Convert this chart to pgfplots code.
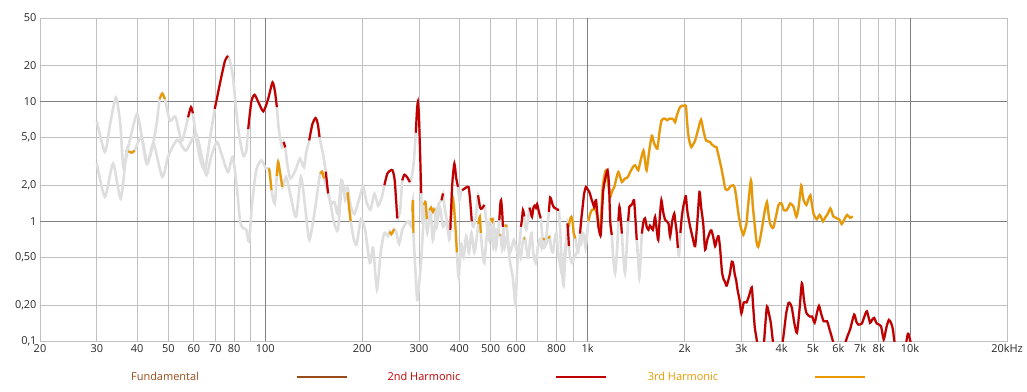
\documentclass[border=0pt]{standalone}
\usepackage{fontspec}
\setmainfont{Open Sans}
\usepackage{pgfplots}
\usepackage{pgfplotstable}
\pgfplotsset{compat=1.18}
\definecolor{hred}{RGB}{192,0,0}
\definecolor{horange}{RGB}{232,152,0}
\definecolor{hbrown}{RGB}{150,75,25}
\definecolor{hgrey}{RGB}{222,222,222}
\definecolor{gridlight}{RGB}{192,192,192}
\definecolor{griddark}{RGB}{128,128,128}
\definecolor{ticktext}{RGB}{40,40,40}

% curve P (mostly 2nd harmonic): f, value, red part, orange part
\pgfplotstableread{
f v r o
30 6.9 nan nan
31.8 3.8 nan nan
33 6.5 nan nan
34.4 10.8 nan nan
35.5 6.5 nan nan
36.3 2.8 nan nan
37.8 4.5 nan nan
40 7.9 nan nan
41.5 4.8 nan nan
42.8 3.05 nan nan
44.5 4.0 nan nan
46 6.5 nan nan
47 10.5 nan 10.5
47.9 11.7 nan 11.7
48.8 10.5 nan 10.5
50.6 6.9 nan nan
52.6 7.5 nan nan
55 4.7 nan nan
57 6.5 nan nan
57.6 7.4 7.4 nan
58.8 9.0 9.0 nan
59.6 8.0 8.0 nan
61 5 nan nan
63 3.2 nan nan
65 2.67 nan nan
67 4.5 nan nan
69.7 8.7 8.7 nan
72.6 14.9 14.9 nan
75 22 22 nan
76.6 24.1 24.1 nan
77.6 22 nan nan
79.4 16 nan nan
82.3 6.1 nan nan
85.3 3.55 nan nan
87.3 3.9 nan nan
88.5 5.9 5.9 nan
90.5 10 10 nan
92.6 11.4 11.4 nan
95 10 10 nan
98.6 8.3 8.3 nan
102 10.5 10.5 nan
105.3 14.5 14.5 nan
107.2 12 12 nan
108.6 9.0 9.0 nan
110 6 nan nan
112.6 4.12 nan nan
114 4.6 4.6 nan
115.3 4.15 4.15 nan
117 3 nan nan
119.6 2.28 nan nan
124 2.67 nan nan
128 3.34 nan nan
131.8 2.84 nan nan
134 3.8 nan nan
136.8 4.74 4.74 nan
140 6.5 6.5 nan
143.2 7.3 7.3 nan
145.5 6.5 6.5 nan
147.3 5.05 5.05 nan
151 3.67 nan nan
154 2.6 2.6 nan
156.6 1.71 1.71 nan
160 1.4 nan nan
164 1.45 nan nan
168 1.15 nan nan
172 2.2 nan nan
176 1.8 nan nan
180 1.9 nan nan
184 1.35 nan nan
189 1.15 nan nan
195 1.5 nan nan
201 1.94 nan nan
206 1.45 nan nan
212 1.25 nan nan
218 1.7 nan nan
224 1.35 nan nan
230 1.6 nan nan
234 2.0 2.0 nan
239 2.5 2.5 nan
244 2.65 2.65 nan
248 2.67 2.67 nan
252 2.2 2.2 nan
256.7 1.06 1.06 nan
262 1.25 nan nan
266 2.2 2.2 nan
270 2.45 2.45 nan
275 2.35 2.35 nan
281 2.13 2.13 nan
285 2.4 nan nan
289 3.2 nan nan
293 5.5 5.5 nan
295.5 8.5 8.5 nan
297.5 10 10 nan
299.5 8 8 nan
302 3.9 3.9 nan
304.5 1.72 1.72 nan
307 1.0 nan nan
312 1.3 nan nan
318 0.8 nan nan
325 1.25 nan nan
331 0.7 nan nan
338 1.1 nan nan
345 1.4 nan nan
352 1.5 1.5 nan
356 1.71 1.71 nan
360 1.3 nan nan
366 1.0 nan nan
372 0.7 nan nan
375 0.85 0.85 nan
380 2.0 2.0 nan
386 3.03 3.03 nan
391 2.3 2.3 nan
396 1.94 1.94 nan
400 1.5 nan nan
404 1.7 nan nan
408 1.82 1.82 nan
418 1.9 1.9 nan
427 1.94 1.94 nan
432 1.5 1.5 nan
437 1.0 1.0 nan
442 0.9 nan nan
450 1.1 nan nan
457 1.65 1.65 nan
464 1.3 1.3 nan
470 1.28 1.28 nan
478 1.37 1.37 nan
483 1.1 nan nan
489 0.85 nan nan
495 0.7 nan nan
502 0.9 nan nan
510 0.6 nan nan
520 0.85 nan nan
528 0.8 nan nan
532 1.02 1.02 nan
536 1.4 1.4 nan
539 1.5 1.5 nan
543 1.2 1.2 nan
546 0.9 0.9 nan
552 0.6 nan nan
562 0.75 nan nan
575 0.55 nan nan
590 0.7 nan nan
605 0.55 nan nan
615 0.66 nan nan
621 0.9 0.9 nan
625 1.02 1.02 nan
630 1.24 1.24 nan
636 1.1 1.1 nan
640 0.9 nan nan
645 0.85 nan nan
652 1.0 nan nan
660 1.3 1.3 nan
666 1.2 1.2 nan
672 1.09 1.09 nan
679 1.3 1.3 nan
685 1.35 1.35 nan
691 1.3 1.3 nan
697 1.39 1.39 nan
706 1.2 1.2 nan
715 1.06 1.06 nan
722 0.8 nan nan
730 0.6 nan nan
740 0.65 nan nan
750 0.9 nan nan
758 1.2 1.2 nan
765 1.58 1.58 nan
772 1.5 1.5 nan
779 1.37 1.37 nan
788 1.3 1.3 nan
797 1.28 1.28 nan
806 1.25 1.25 nan
814 1.25 1.25 nan
821 0.9 nan nan
828 0.54 nan nan
835 0.35 nan nan
842 0.29 nan nan
850 0.45 nan nan
858 0.65 nan nan
866 0.96 0.96 nan
870 0.8 0.8 nan
875 0.62 0.62 nan
882 0.5 nan nan
895 0.45 nan nan
910 0.5 nan nan
925 0.55 nan nan
938 0.6 nan nan
947 0.79 0.79 nan
956 1.05 1.05 nan
965 1.32 1.32 nan
975 1.7 1.7 nan
988 1.94 1.94 nan
1000 1.85 1.85 nan
1012 1.76 1.76 nan
1020 1.65 1.65 nan
1030 1.5 1.5 nan
1040 1.4 1.4 nan
1047 1.32 1.32 nan
1055 1.45 1.45 nan
1062 1.5 1.5 nan
1070 1.2 1.2 nan
1080 0.9 0.9 nan
1090 0.8 0.8 nan
1098 0.77 0.77 nan
1108 1.2 1.2 nan
1118 1.82 1.82 nan
1135 2.3 2.3 nan
1153 2.67 2.67 nan
1165 2.0 2.0 nan
1175 1.0 1.0 nan
1188 0.77 0.77 nan
1200 0.5 nan nan
1217 0.37 nan nan
1235 0.6 nan nan
1245 1.0 1.0 nan
1255 1.32 1.32 nan
1265 1.1 1.1 nan
1277 0.79 0.79 nan
1290 0.5 nan nan
1306 0.37 nan nan
1322 0.6 nan nan
1335 1.0 1.0 nan
1347 1.32 1.32 nan
1360 1.35 1.35 nan
1375 1.4 1.4 nan
1393 1.5 1.5 nan
1405 1.1 1.1 nan
1420 0.7 0.7 nan
1433 0.5 nan nan
1447 0.34 nan nan
1460 0.5 nan nan
1473 0.79 0.79 nan
1490 1.0 1.0 nan
1507 1.06 1.06 nan
1525 0.9 0.9 nan
1544 0.85 0.85 nan
1560 0.92 0.92 nan
1572 0.9 0.9 nan
1593 0.85 0.85 nan
1605 0.95 0.95 nan
1619 1.09 1.09 nan
1638 0.85 0.85 nan
1656 0.7 0.7 nan
1675 1.1 1.1 nan
1694 1.5 1.5 nan
1715 1.2 1.2 nan
1739 1.03 1.03 nan
1760 1.0 1.0 nan
1782 0.96 0.96 nan
1802 0.75 0.75 nan
1830 1.0 1.0 nan
1857 1.16 1.16 nan
1870 1.0 1.0 nan
1886 0.85 0.85 nan
1905 0.6 0.6 nan
1921 0.52 nan nan
1940 0.8 0.8 nan
1960 1.1 1.1 nan
1980 1.32 1.32 nan
2000 1.5 1.5 nan
2017 1.62 1.62 nan
2040 1.2 1.2 nan
2080 0.9 0.9 nan
2120 0.72 0.72 nan
2155 0.62 0.62 nan
2190 1.0 1.0 nan
2223 1.76 1.76 nan
2250 1.3 1.3 nan
2283 0.96 0.96 nan
2314 0.58 0.58 nan
2350 0.7 0.7 nan
2398 0.82 0.82 nan
2420 0.84 0.84 nan
2450 0.75 0.75 nan
2486 0.62 0.62 nan
2515 0.7 0.7 nan
2547 0.75 0.75 nan
2575 0.6 0.6 nan
2610 0.38 0.38 nan
2640 0.33 0.33 nan
2670 0.31 0.31 nan
2700 0.29 0.29 nan
2760 0.36 0.36 nan
2800 0.46 0.46 nan
2830 0.44 0.44 nan
2860 0.36 0.36 nan
2890 0.32 0.32 nan
2916 0.27 0.27 nan
2960 0.22 0.22 nan
3000 0.17 0.17 nan
3050 0.21 0.21 nan
3110 0.21 0.21 nan
3170 0.24 0.24 nan
3230 0.28 0.28 nan
3260 0.2 0.2 nan
3300 0.13 0.13 nan
3350 0.1 0.1 nan
3400 0.07 0.07 nan
3500 0.08 0.08 nan
3560 0.14 0.14 nan
3600 0.195 0.195 nan
3650 0.17 0.17 nan
3700 0.142 0.142 nan
3760 0.097 0.097 nan
3850 0.06 0.06 nan
3950 0.07 0.07 nan
4050 0.11 0.11 nan
4130 0.17 0.17 nan
4200 0.208 0.208 nan
4250 0.205 0.205 nan
4300 0.19 0.19 nan
4380 0.14 0.14 nan
4460 0.117 0.117 nan
4540 0.18 0.18 nan
4620 0.305 0.305 nan
4690 0.22 0.22 nan
4770 0.172 0.172 nan
4890 0.16 0.16 nan
4970 0.16 0.16 nan
5060 0.142 0.142 nan
5140 0.17 0.17 nan
5220 0.197 0.197 nan
5300 0.17 0.17 nan
5400 0.146 0.146 nan
5530 0.146 0.146 nan
5630 0.125 0.125 nan
5780 0.097 0.097 nan
5900 0.07 0.07 nan
6100 0.07 0.07 nan
6250 0.09 0.09 nan
6400 0.11 0.11 nan
6520 0.125 0.125 nan
6710 0.166 0.166 nan
6820 0.145 0.145 nan
6920 0.137 0.137 nan
7090 0.14 0.14 nan
7220 0.16 0.16 nan
7350 0.177 0.177 nan
7520 0.142 0.142 nan
7620 0.15 0.15 nan
7740 0.156 0.156 nan
7890 0.14 0.14 nan
8130 0.133 0.133 nan
8290 0.103 0.103 nan
8450 0.13 0.13 nan
8600 0.15 0.15 nan
8750 0.14 0.14 nan
8850 0.125 0.125 nan
8960 0.097 0.097 nan
9200 0.07 0.07 nan
9600 0.08 0.08 nan
9850 0.115 0.115 nan
10000 0.103 0.103 nan
10200 0.08 0.08 nan
}\curveP

% curve Q (mostly 3rd harmonic)
\pgfplotstableread{
f v r o
30 3.05 nan nan
31.8 1.6 nan nan
33.7 3.03 nan nan
35.6 1.55 nan nan
37.1 3.9 nan nan
37.6 3.85 nan 3.85
38.5 3.75 nan 3.75
39.3 3.9 nan 3.9
41.3 5.05 nan nan
43.1 3.03 nan nan
45 4.45 nan nan
47.9 2.35 nan nan
50 3.5 nan nan
53.3 4.8 nan nan
56.7 3.9 nan nan
60.9 5.4 nan nan
63.5 3.5 nan nan
65.7 2.43 nan nan
68 3.5 nan nan
70.8 4.6 nan nan
73.5 3.5 nan nan
76.6 2.58 nan nan
79.2 3.45 nan nan
81.5 2.0 nan nan
83.5 1.0 nan nan
85.3 0.88 nan nan
87.3 0.85 nan nan
89 0.68 nan nan
91 1.4 nan nan
93.7 2.67 nan nan
97.2 3.23 nan nan
100.3 2.77 nan nan
102.7 2.77 nan 2.77
103.6 2.3 nan 2.3
104.5 1.82 nan 1.82
107 1.41 nan nan
108.5 2.4 nan 2.4
109.6 3.13 nan 3.13
111 2.6 nan 2.6
113 1.94 nan 1.94
116 2.35 nan nan
120 1.6 nan nan
124.6 1.09 nan nan
129 2.35 nan nan
133 1.3 nan nan
137 0.7 nan nan
143 1.32 nan nan
146 2.0 nan nan
148 2.5 nan 2.5
150 2.6 nan 2.6
152 2.28 nan 2.28
155 1.9 nan nan
158 1.6 nan nan
163 1.0 nan nan
168 0.85 nan nan
173 2.13 nan nan
177 1.5 nan nan
180 1.75 nan 1.75
182 1.3 nan 1.3
184 1.0 nan 1.0
188 0.72 nan nan
192 0.64 nan nan
198 1.05 nan nan
204 0.85 nan nan
211 0.45 nan nan
216 0.6 nan nan
222 0.27 nan nan
228 0.55 nan nan
234 0.8 nan nan
240 0.75 nan nan
243 0.82 nan 0.82
246 0.78 nan 0.78
251 0.86 nan 0.86
255 0.8 nan nan
260 0.65 nan nan
266 0.85 nan nan
272 0.95 nan nan
278 1.0 nan nan
284 0.9 nan nan
286 1.2 nan 1.2
287 1.5 nan 1.5
288 0.8 nan 0.8
292 0.4 nan nan
296 0.22 nan nan
300 0.3 nan nan
304 0.45 nan nan
308 0.8 nan nan
311 1.37 nan 1.37
314 1.45 nan 1.45
317 1.05 nan 1.05
320 1.1 nan nan
323 1.24 nan 1.24
327 1.3 nan 1.3
331 1.2 nan 1.2
335 1.28 nan 1.28
340 0.9 nan nan
348 1.3 nan nan
356 0.9 nan nan
365 1.0 nan nan
372 0.8 nan nan
376 1.0 nan 1.0
381 1.6 nan 1.6
385 1.3 nan 1.3
389 0.9 nan 0.9
393 0.55 nan 0.55
398 0.34 nan nan
405 0.65 nan nan
412 0.5 nan nan
420 0.75 nan nan
428 0.55 nan nan
436 0.8 nan nan
445 0.55 nan nan
452 0.7 nan nan
458 0.95 nan 0.95
463 1.09 nan 1.09
466 0.8 nan 0.8
472 0.55 nan nan
478 0.45 nan nan
485 0.7 nan nan
492 0.9 nan nan
500 1.06 nan 1.06
506 1.0 nan 1.0
509 1.06 nan 1.06
514 0.8 nan nan
520 0.6 nan nan
526 0.8 nan nan
532 0.77 nan 0.77
537 0.77 nan 0.77
542 0.6 nan nan
548 0.8 nan nan
553 0.93 nan 0.93
558 0.92 nan 0.92
562 0.9 nan 0.9
568 0.6 nan nan
575 0.45 nan nan
585 0.35 nan nan
592 0.25 nan nan
597 0.2 nan nan
603 0.35 nan nan
610 0.6 nan nan
620 0.5 nan nan
628 0.65 nan nan
633 0.72 nan 0.72
640 0.72 nan 0.72
648 0.55 nan nan
655 0.5 nan nan
663 0.7 nan nan
670 0.8 nan nan
678 0.55 nan nan
690 0.45 nan nan
700 0.6 nan nan
710 0.7 nan nan
720 0.6 nan nan
728 0.7 nan 0.7
735 0.72 nan 0.72
745 0.65 nan nan
755 0.72 nan 0.72
763 0.75 nan 0.75
770 0.6 nan nan
780 0.55 nan nan
790 0.7 nan nan
800 0.8 nan nan
810 0.55 nan nan
820 0.45 nan nan
835 0.35 nan nan
845 0.5 nan nan
855 0.65 nan nan
865 0.8 nan nan
873 0.9 nan 0.9
883 1.05 nan 1.05
890 1.09 nan 1.09
898 1.0 nan 1.0
905 0.8 nan 0.8
916 0.72 nan 0.72
925 0.6 nan nan
935 0.55 nan nan
945 0.7 nan nan
955 0.65 nan nan
965 0.8 nan nan
975 0.75 nan nan
985 0.6 nan nan
995 0.75 nan nan
1005 1.0 nan 1.0
1018 1.15 nan 1.15
1030 1.24 nan 1.24
1042 1.26 nan 1.26
1054 1.28 nan 1.28
1063 1.2 nan 1.2
1072 1.09 nan 1.09
1083 0.9 nan 0.9
1093 0.79 nan 0.79
1103 1.2 nan 1.2
1114 1.94 nan 1.94
1127 2.4 nan 2.4
1140 2.67 nan 2.67
1157 2.1 nan 2.1
1174 1.6 nan 1.6
1192 1.8 nan 1.8
1210 1.94 nan 1.94
1228 2.3 nan 2.3
1245 2.58 nan 2.58
1261 2.35 nan 2.35
1277 2.13 nan 2.13
1292 2.2 nan 2.2
1306 2.28 nan 2.28
1322 2.3 nan 2.3
1339 2.4 nan 2.4
1356 2.6 nan 2.6
1374 2.76 nan 2.76
1389 2.9 nan 2.9
1403 2.94 nan 2.94
1420 2.8 nan 2.8
1436 2.67 nan 2.67
1463 3.3 nan 3.3
1490 3.9 nan 3.9
1507 3.2 nan 3.2
1524 2.67 nan 2.67
1553 3.9 nan 3.9
1581 5.2 nan 5.2
1596 4.8 nan 4.8
1610 4.45 nan 4.45
1628 4.2 nan 4.2
1646 4.05 nan 4.05
1670 5.5 nan 5.5
1694 6.95 nan 6.95
1716 7.2 nan 7.2
1739 7.2 nan 7.2
1765 7.0 nan 7.0
1793 7.2 nan 7.2
1825 7.2 nan 7.2
1846 7.1 nan 7.1
1868 6.73 nan 6.73
1890 7.6 nan 7.6
1913 8.4 nan 8.4
1935 9.0 nan 9.0
1958 9.25 nan 9.25
1990 9.2 nan 9.2
2017 9.25 nan 9.25
2033 7.0 nan 7.0
2050 5.4 nan 5.4
2075 4.5 nan 4.5
2098 4.17 nan 4.17
2125 4.4 nan 4.4
2155 4.74 nan 4.74
2200 5.8 nan 5.8
2248 7.06 nan 7.06
2290 5.6 nan 5.6
2330 4.74 nan 4.74
2365 4.65 nan 4.65
2398 4.6 nan 4.6
2425 4.4 nan 4.4
2453 4.3 nan 4.3
2480 4.2 nan 4.2
2510 4.17 nan 4.17
2550 3.5 nan 3.5
2595 2.84 nan 2.84
2635 2.3 nan 2.3
2670 1.88 nan 1.88
2700 1.83 nan 1.83
2730 1.85 nan 1.85
2780 1.98 nan 1.98
2830 2.0 nan 2.0
2860 1.9 nan 1.9
2890 1.6 nan 1.6
2930 1.2 nan 1.2
2970 0.96 nan 0.96
3000 0.85 nan 0.85
3040 0.77 nan 0.77
3075 0.85 nan 0.85
3110 0.96 nan 0.96
3150 1.4 nan 1.4
3200 2.1 nan 2.1
3220 2.13 nan 2.13
3250 1.4 nan 1.4
3290 1.0 nan 1.0
3340 0.68 nan 0.68
3380 0.61 nan 0.61
3430 0.72 nan 0.72
3480 0.9 nan 0.9
3540 1.2 nan 1.2
3600 1.45 nan 1.45
3640 1.15 nan 1.15
3680 0.96 nan 0.96
3730 0.89 nan 0.89
3770 0.89 nan 0.89
3840 1.1 nan 1.1
3910 1.37 nan 1.37
3990 1.42 nan 1.42
4060 1.24 nan 1.24
4140 1.24 nan 1.24
4200 1.32 nan 1.32
4250 1.41 nan 1.41
4350 1.33 nan 1.33
4440 1.09 nan 1.09
4510 1.3 nan 1.3
4600 2.0 nan 2.0
4640 1.7 nan 1.7
4680 1.5 nan 1.5
4770 1.37 nan 1.37
4850 1.55 nan 1.55
4910 1.65 nan 1.65
4960 1.4 nan 1.4
5020 1.16 nan 1.16
5080 1.08 nan 1.08
5140 1.04 nan 1.04
5240 1.13 nan 1.13
5300 1.08 nan 1.08
5370 1.0 nan 1.0
5460 1.08 nan 1.08
5530 1.13 nan 1.13
5660 1.28 nan 1.28
5720 1.2 nan 1.2
5780 1.1 nan 1.1
5850 1.08 nan 1.08
5920 1.06 nan 1.06
6030 1.04 nan 1.04
6140 0.95 nan 0.95
6250 1.03 nan 1.03
6380 1.13 nan 1.13
6520 1.07 nan 1.07
6640 1.1 nan 1.1
}\curveQ

\begin{document}
\begin{tikzpicture}
\begin{axis}[
  scale only axis, width=967bp, height=323bp,
  xmode=log, ymode=log,
  xmin=20, xmax=20000, ymin=0.1, ymax=50,
  axis line style={gridlight, line width=0.8bp},
  xtick={20,30,40,50,60,70,80,90,100,200,300,400,500,600,700,800,900,1000,2000,3000,4000,5000,6000,7000,8000,9000,10000,20000},
  xticklabels={20,30,40,50,60,70,80,{},100,200,300,400,500,600,{},800,{},1k,2k,3k,4k,5k,6k,7k,8k,{},10k,20kHz},
  ytick={0.1,0.2,0.5,1,2,5,10,20,50},
  yticklabels={{0,1},{0,20},{0,50},1,{2,0},{5,0},10,20,50},
  minor xtick={}, minor ytick={},
  tick style={draw=none},
  grid=major,
  major grid style={gridlight, line width=0.8bp},
  extra x ticks={100,1000,10000}, extra x tick labels={},
  extra x tick style={major grid style={griddark, line width=0.8bp}},
  extra y ticks={1,10}, extra y tick labels={},
  extra y tick style={major grid style={griddark, line width=0.8bp}},
  tick label style={font=\fontsize{11}{13}\selectfont, text=ticktext},
  unbounded coords=jump,
  legend plot pos=right,
  legend columns=3,
  legend style={draw=none, fill=none, inner sep=0pt, outer sep=0pt,
    at={(0,0)}, anchor=west, xshift=75bp, yshift=-36bp,
    font=\fontsize{11}{13}\selectfont,
    nodes={inner sep=0pt},
    /tikz/every even column/.append style={column sep=26bp}},
  legend image code/.code={\path[draw=none] (0bp,0bp) (132bp,0bp);
    \draw[#1] (82bp,0bp) -- (132bp,0bp);},
]
\addplot[hgrey, line width=2.6bp, smooth, tension=0.4, forget plot] table[x=f, y=v] {\curveP};
\addplot[hgrey, line width=2.6bp, smooth, tension=0.4, forget plot] table[x=f, y=v] {\curveQ};
\addplot[horange, line width=2.2bp, smooth, tension=0.4, forget plot] table[x=f, y=o] {\curveQ};
\addplot[horange, line width=2.2bp, smooth, tension=0.4, forget plot] table[x=f, y=o] {\curveP};
\addplot[hred, line width=2.2bp, smooth, tension=0.4, forget plot] table[x=f, y=r] {\curveP};

\addlegendimage{hbrown, line width=2bp}
\addlegendentry{\makebox[100bp][c]{\textcolor{hbrown}{Fundamental}}}
\addlegendimage{hred, line width=2bp}
\addlegendentry{\makebox[100bp][c]{\textcolor{hred}{2nd Harmonic}}}
\addlegendimage{horange, line width=2bp}
\addlegendentry{\makebox[100bp][c]{\textcolor{horange}{3rd Harmonic}}}

\node[anchor=base, xshift=-7bp, yshift=8bp, font=\fontsize{11}{13}\selectfont, text=ticktext] at (rel axis cs:0,1) {\%};
\end{axis}
\pgfresetboundingbox
\path (current axis.south west) ++(-40bp,-51bp) rectangle ++(1027bp,392bp);
\end{tikzpicture}
\end{document}
